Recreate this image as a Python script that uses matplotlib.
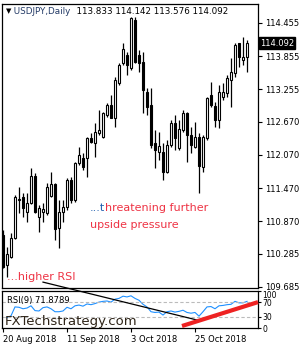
import matplotlib
matplotlib.use("Agg")
import matplotlib.pyplot as plt
import numpy as np

# daily candles, USDJPY 20 Aug 2018 -> mid Nov 2018
opens = [110.62, 110.08, 110.23, 110.57, 111.26, 111.31, 111.04, 111.20, 111.69, 110.95,
         111.04, 111.02, 111.33, 111.55, 110.75, 111.04, 111.13, 111.62, 111.26, 111.93,
         112.02, 112.02, 112.38, 112.29, 112.47, 112.40, 112.79, 112.97, 112.74, 113.37,
         113.73, 113.88, 113.64, 114.51, 113.88, 113.75, 113.21, 112.97, 112.29, 112.12,
         112.12, 111.76, 112.25, 112.65, 112.20, 112.52, 112.83, 112.43, 112.21, 112.40,
         111.85, 112.38, 113.15, 112.96, 112.70, 113.12, 113.19, 113.43, 113.55, 114.09,
         113.79, 113.833]
highs = [110.72, 110.41, 110.66, 111.35, 111.49, 111.38, 111.38, 111.84, 111.75, 111.17,
         111.20, 111.56, 111.76, 111.56, 111.26, 111.26, 111.65, 111.67, 111.94, 112.21,
         112.11, 112.40, 112.47, 112.65, 112.88, 112.85, 113.01, 113.15, 113.48, 113.73,
         114.09, 113.93, 114.56, 114.56, 113.97, 113.93, 113.28, 113.28, 112.52, 112.49,
         112.29, 112.34, 112.70, 112.79, 112.70, 112.88, 112.85, 112.58, 112.67, 112.47,
         112.43, 113.12, 113.39, 113.03, 113.34, 113.37, 113.52, 113.82, 114.09, 114.10,
         114.20, 114.142]
lows = [110.03, 109.87, 110.21, 110.55, 111.02, 110.95, 110.86, 111.19, 111.02, 110.68,
        110.86, 110.99, 111.31, 110.53, 110.39, 110.86, 111.08, 111.20, 111.22, 111.89,
        111.80, 111.67, 112.29, 112.03, 112.43, 112.38, 112.76, 112.74, 112.58, 113.34,
        113.70, 113.52, 113.61, 113.73, 113.57, 112.83, 112.79, 112.20, 111.84, 111.98,
        111.62, 111.75, 112.21, 112.16, 112.16, 112.49, 111.94, 112.11, 112.20, 111.38,
        111.76, 112.34, 112.94, 112.58, 112.56, 113.06, 113.12, 112.94, 113.48, 113.66,
        113.70, 113.576]
closes = [110.05, 110.28, 110.57, 111.31, 111.28, 111.11, 111.20, 111.69, 111.04, 111.11,
          111.09, 111.49, 111.55, 110.73, 111.04, 111.13, 111.62, 111.26, 111.93, 112.07,
          111.85, 112.38, 112.31, 112.49, 112.52, 112.83, 112.97, 112.74, 113.43, 113.70,
          113.99, 113.70, 114.55, 113.75, 113.73, 113.24, 112.94, 112.25, 112.16, 112.23,
          111.76, 112.25, 112.65, 112.38, 112.54, 112.83, 112.43, 112.25, 112.40, 111.87,
          112.40, 113.10, 112.97, 112.70, 113.21, 113.21, 113.46, 113.57, 114.06, 113.84,
          113.84, 114.092]

# RSI(9) (starts at the 2nd bar)
rsi = [28, 33, 57, 56, 52, 54, 60, 47, 46, 55,
       57, 52, 44, 44, 46, 56, 52, 60, 62, 59,
       65, 63, 66, 70, 72, 73, 70, 78, 80, 86,
       84, 87, 80, 75, 64, 57, 44, 42, 43, 35,
       44, 46, 43, 45, 48, 42, 40, 42, 32, 44,
       57, 58, 52, 60, 61, 63, 64, 72, 68, 68,
       71.88]

price_ticks = [114.455, 113.855, 113.255, 112.670, 112.070, 111.470, 110.870, 110.285, 109.685]
date_pos = [0, 16, 32, 48]
date_labels = ["20 Aug 2018", "11 Sep 2018", "3 Oct 2018", "25 Oct 2018"]
rsi_ticks = [0, 30, 70, 100]

RED = "#ee3344"
BLUE = "#1f5fb0"

fig = plt.figure(figsize=(3, 3.5), dpi=100)
W, H = 300.0, 350.0
ax = fig.add_axes([2 / W, 1 - 288 / H, 256 / W, 284 / H])
ar = fig.add_axes([2 / W, 1 - 328 / H, 256 / W, 37 / H])

x = np.arange(len(closes))
o = np.array(opens); c = np.array(closes)
up = c >= o

# candles
ax.vlines(x, lows, highs, color="black", lw=0.9, zorder=2)
ax.bar(x, np.abs(c - o), bottom=np.minimum(o, c), width=0.7,
       color=np.where(up, "white", "black"), edgecolor="black", linewidth=0.8, zorder=3)

ax.set_xlim(-0.25, 63.75)
ax.set_ylim(109.666, 114.798)
ax.set_xticks([])
ax.yaxis.tick_right()
ax.set_yticks(price_ticks)
ax.set_yticklabels(["%.3f" % v for v in price_ticks])
ax.tick_params(axis="y", labelsize=6, length=3, width=0.8, pad=2, colors="black")
for s in ax.spines.values():
    s.set_linewidth(0.9)

# current price box
ax.text(1.008, closes[-1], "%.3f" % closes[-1], transform=ax.get_yaxis_transform(),
        color="white", fontsize=6, va="center", ha="left",
        bbox=dict(boxstyle="square,pad=0.15", fc="black", ec="black"), zorder=5)

# header
t0 = ax.text(0.016, 0.975, "▼", transform=ax.transAxes, fontsize=5, va="center", ha="left")
t1 = ax.annotate(" USDJPY,Daily", xy=(1, 0.5), xycoords=t0, fontsize=6.3,
                 color="#233a66", va="center", ha="left")
ax.annotate("  113.833 114.142 113.576 114.092", xy=(1, 0.5), xycoords=t1,
            fontsize=6.3, color="black", va="center", ha="left")

# comments
ax.text(0.02, 0.039, "...higher RSI", transform=ax.transAxes, fontsize=8,
        color=RED, va="center", ha="left")
a1 = ax.text(0.344, 0.282, "...t", transform=ax.transAxes, fontsize=8,
             color=BLUE, va="center", ha="left")
ax.annotate("hreatening further", xy=(1, 0), xycoords=a1, fontsize=8,
            color=RED, va="bottom", ha="left")
ax.text(0.344, 0.222, "upside pressure", transform=ax.transAxes, fontsize=8,
        color=RED, va="center", ha="left")

# RSI panel
ar.plot(x[1:], rsi, color="#1e90ff", lw=0.8)
ar.axhline(70, color="#bbbbbb", lw=0.8, ls=(0, (3, 2)))
ar.axhline(30, color="#bbbbbb", lw=0.8, ls=(0, (3, 2)))
ar.set_xlim(-0.25, 63.75)
ar.set_ylim(0, 100)
ar.yaxis.tick_right()
ar.set_yticks(rsi_ticks)
ar.set_yticklabels([str(v) for v in rsi_ticks])
ar.tick_params(axis="y", labelsize=5.5, length=2, width=0.8, pad=1)
lab = ar.get_yticklabels()
lab[-1].set_va("top")
ar.set_xticks(date_pos)
ar.set_xticklabels(date_labels, ha="left")
ar.tick_params(axis="x", labelsize=6, length=3, width=0.8, pad=2)
for s in ar.spines.values():
    s.set_linewidth(0.9)

ar.text(0.02, 0.75, "RSI(9) 71.8789", transform=ar.transAxes, fontsize=6,
        color="black", va="center", ha="left")
ar.text(0.012, 0.17, "FXTechstrategy.com", transform=ar.transAxes, fontsize=9.5,
        color="#2e2418", va="center", ha="left", zorder=6)

# trend lines drawn on the RSI panel
ar.plot([10, 48.5], [124, 21.6], color="black", lw=0.9, clip_on=False, zorder=4)
ar.plot([44.75, 63.75], [5.4, 70], color="#ee2222", lw=3, clip_on=False,
        solid_capstyle="butt", zorder=4)

fig.savefig("out.png", dpi=100, facecolor="white")
